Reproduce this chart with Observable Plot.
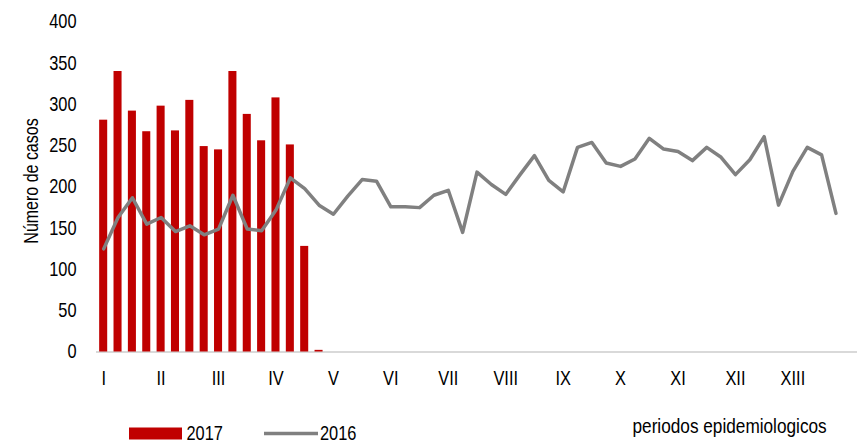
<!DOCTYPE html>
<html>
<head>
<meta charset="utf-8">
<script src="https://cdn.jsdelivr.net/npm/d3@7"></script>
<script src="https://cdn.jsdelivr.net/npm/@observablehq/plot@0.6"></script>
<style>
  html, body { margin: 0; padding: 0; background: #fff; }
  #wrap { position: relative; width: 857px; height: 444px; overflow: hidden; }
  #overlay { position: absolute; left: 0; top: 0; pointer-events: none; }
</style>
</head>
<body>
<div id="wrap"></div>
<script>
const FONT = '"Liberation Sans", Arial, sans-serif';
const NARROW = 0.82; // horizontal squeeze to mimic a narrow typeface

// Epidemiological weeks (53 slots on the axis)
const weeks = d3.range(1, 54);
// Period labels (one every 4 weeks)
const periods = ["I", "II", "III", "IV", "V", "VI", "VII", "VIII", "IX", "X", "XI", "XII", "XIII"];
const periodWeeks = [1, 5, 9, 13, 17, 21, 25, 29, 33, 37, 41, 45, 49];
// Y ticks
const yTicks = [0, 50, 100, 150, 200, 250, 300, 350, 400];

// 2017 cases (bars), weeks 1..16
const cases2017 = [281, 340, 292, 267, 298, 268, 305, 249, 245, 340, 288, 256, 308, 251, 128, 2];
// 2016 cases (line), weeks 1..52
const cases2016 = [125, 163, 187, 155, 163, 146, 153, 142, 149, 190,
                   149, 147, 172, 211, 198, 178, 167, 189, 209, 207,
                   176, 176, 175, 190, 196, 145, 218, 203, 191, 215,
                   238, 208, 194, 248, 254, 229, 225, 234, 259, 246,
                   243, 232, 248, 236, 215, 233, 261, 178, 219, 248,
                   239, 168];

const bars = cases2017.map((v, i) => ({week: i + 1, cases: v}));
const line = cases2016.map((v, i) => ({week: i + 1, cases: v}));

const chart = Plot.plot({
  width: 857,
  height: 410,
  marginTop: 21.5,
  marginBottom: 58.5,
  marginLeft: 96,
  marginRight: 0,
  style: {fontFamily: FONT, fontSize: "20px", color: "#000", background: "#fff", overflow: "visible"},
  x: {type: "band", domain: weeks, paddingInner: 0.44, paddingOuter: 0.22, align: 0.5, round: false},
  y: {domain: [0, 400]},
  marks: [
    Plot.ruleY([0], {stroke: "#d9d9d9", strokeWidth: 2}),
    Plot.barY(bars, {x: "week", y: "cases", fill: "#c00000"}),
    Plot.line(line, {x: "week", y: "cases", stroke: "#808080", strokeWidth: 3.5}),
    Plot.axisX({ticks: periodWeeks, tickFormat: d => periods[periodWeeks.indexOf(d)], tickSize: 0, tickPadding: 19, label: null, fontSize: 20}),
    Plot.axisY({ticks: yTicks, tickSize: 0, tickPadding: 20, label: null, fontSize: 20})
  ]
});

// squeeze tick labels horizontally around their anchor
chart.querySelectorAll('g[aria-label="x-axis tick label"] text, g[aria-label="y-axis tick label"] text').forEach(t => {
  const tr = t.getAttribute("transform") || "";
  t.setAttribute("transform", tr + ` scale(${NARROW},1)`);
});

const wrap = document.getElementById("wrap");
wrap.appendChild(chart);

// Overlay: axis title, x title and legend
const ns = "http://www.w3.org/2000/svg";
const ov = document.createElementNS(ns, "svg");
ov.setAttribute("id", "overlay");
ov.setAttribute("width", 857);
ov.setAttribute("height", 444);
ov.setAttribute("font-family", FONT);
ov.innerHTML = `
  <text transform="translate(38,181) rotate(-90) scale(${NARROW},1)" text-anchor="middle" font-size="19.5" fill="#000">Número de casos</text>
  <rect x="129" y="427.5" width="53" height="12" fill="#c00000"></rect>
  <text transform="translate(186.5,439.6) scale(${NARROW},1)" font-size="20" fill="#000">2017</text>
  <line x1="264" x2="318" y1="433.5" y2="433.5" stroke="#808080" stroke-width="3.5"></line>
  <text transform="translate(320,439.6) scale(${NARROW},1)" font-size="20" fill="#000">2016</text>
  <text transform="translate(632.5,433.3) scale(${NARROW},1)" font-size="21" fill="#000">periodos epidemiologicos</text>
`;
wrap.appendChild(ov);
</script>
</body>
</html>
